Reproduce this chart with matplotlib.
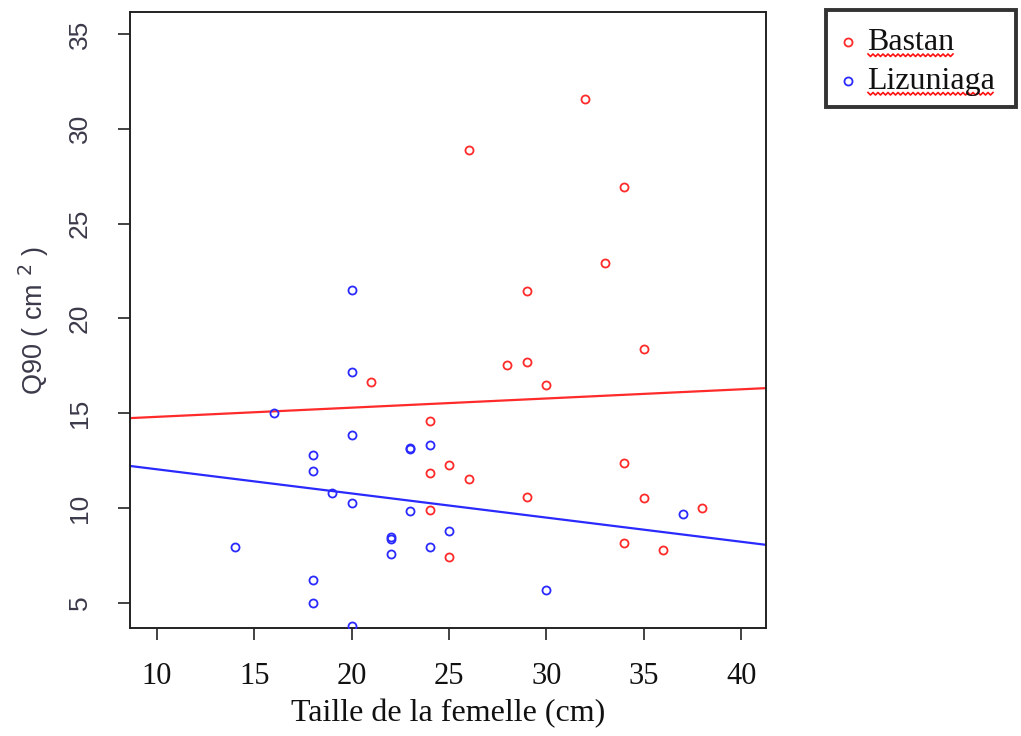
import numpy as np
import matplotlib
matplotlib.use("Agg")
import matplotlib.pyplot as plt
from matplotlib.lines import Line2D
from matplotlib.patches import Rectangle

# ---- data ----
bastan_x = [32, 26, 34, 33, 29, 35, 28, 29, 30, 24, 25, 24, 26, 34, 29, 35, 38, 24, 25, 34, 36, 21]
bastan_y = [31.57, 28.88, 26.92, 22.93, 21.46, 18.39, 17.56, 17.72, 16.50, 14.60, 12.30, 11.87,
            11.55, 12.40, 10.60, 10.53, 10.02, 9.88, 7.43, 8.17, 7.81, 16.65]

liz_x = [20, 20, 16, 20, 18, 18, 23, 23, 24, 19, 20, 23, 14, 22, 22, 22, 24, 25, 18, 18, 20, 30, 37]
liz_y = [21.50, 17.18, 15.00, 13.87, 12.80, 11.96, 13.10, 13.18, 13.35, 10.81, 10.27, 9.87, 7.95,
         8.39, 8.47, 7.58, 7.95, 8.81, 6.21, 5.02, 3.79, 5.71, 9.70]

# regression lines (intercept, slope)
bastan_line = (14.33, 0.0484)
liz_line = (13.32, -0.1273)

series_names = ["Bastan", "Lizuniaga"]
x_ticks = [10, 15, 20, 25, 30, 35, 40]
y_ticks = [5, 10, 15, 20, 25, 30, 35]
x_label = "Taille de la femelle (cm)"
y_label = "Q90 ( cm $^{2}$ )"

RED = "#ff2a2a"
BLUE = "#2a2aff"
SERIF = "Liberation Serif"
SANS = "Liberation Sans"
GREYTXT = "#3a3a4a"

W, H = 1021, 736
fig = plt.figure(figsize=(W / 100, H / 100), dpi=100)
ax = fig.add_axes([130 / W, 1 - 628 / H, (766 - 130) / W, (628 - 12) / H])

ms = 5.8
mew = 1.3
ax.plot(bastan_x, bastan_y, linestyle="none", marker="o", ms=ms, mfc="none", mec=RED, mew=mew, zorder=3)
ax.plot(liz_x, liz_y, linestyle="none", marker="o", ms=ms, mfc="none", mec=BLUE, mew=mew, zorder=3)

ax.axline((0, bastan_line[0]), slope=bastan_line[1], color=RED, lw=1.6, zorder=2)
ax.axline((0, liz_line[0]), slope=liz_line[1], color=BLUE, lw=1.6, zorder=2)

ax.set_xlim(8.61, 41.28)
ax.set_ylim(3.68, 36.16)

ax.set_xticks(x_ticks)
ax.set_yticks(y_ticks)
ax.set_xticklabels([str(v) for v in x_ticks], fontfamily=SERIF, fontsize=22, color="#111111")
ax.set_yticklabels([str(v) for v in y_ticks], fontfamily=SANS, fontsize=19, color=GREYTXT,
                   rotation=90, va="center")
ax.tick_params(axis="x", length=8.5, width=1.2, pad=16, colors="#222222", labelcolor="#111111")
ax.tick_params(axis="y", length=8.5, width=1.2, pad=19, colors="#222222", labelcolor=GREYTXT)

for s in ax.spines.values():
    s.set_linewidth(1.4)
    s.set_color("#222222")

ax.set_xlabel(x_label, fontfamily=SERIF, fontsize=23, color="#111111", labelpad=6)
ax.set_ylabel(y_label, fontfamily=SANS, fontsize=19.5, color=GREYTXT, labelpad=12)

# ---- legend (drawn in figure pixel space) ----
def fx(px):
    return px / W

def fy(py):
    return 1 - py / H

fig.add_artist(Rectangle((fx(826), fy(107)), fx(1016) - fx(826), fy(10) - fy(107),
                         transform=fig.transFigure, fill=False, edgecolor="#333333", lw=2.8))
for i, (name, col) in enumerate(zip(series_names, (RED, BLUE))):
    mark_y = 42 + 38.5 * i
    base_y = 50 + 38.5 * i
    fig.add_artist(Line2D([fx(848)], [fy(mark_y)], linestyle="none", marker="o", ms=ms,
                          mfc="none", mec=col, mew=mew, transform=fig.transFigure))
    t = fig.text(fx(867), fy(base_y), name, fontfamily=SERIF, fontsize=23, color="#111111",
                 ha="left", va="baseline")
    fig.canvas.draw()
    bb = t.get_window_extent(fig.canvas.get_renderer())
    xs = np.arange(bb.x0 + 1, bb.x1 - 1, 2.5)
    sq_y = (H - (base_y + 4)) + np.where(np.arange(len(xs)) % 2 == 0, 0.0, -2.5)
    fig.add_artist(Line2D(xs / W, sq_y / H, color="#ff1010", lw=1.2, transform=fig.transFigure))

fig.savefig("out.png", dpi=100)
